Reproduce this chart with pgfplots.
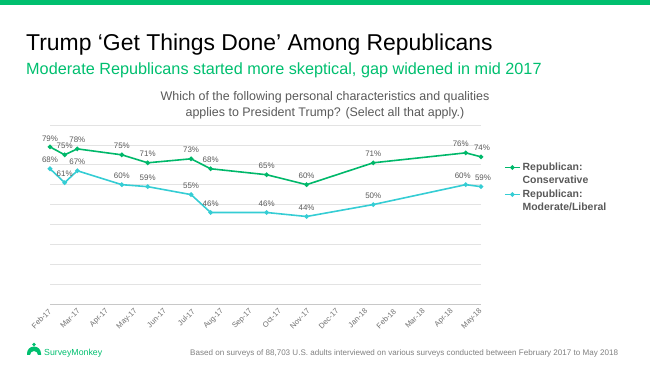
\documentclass[border=0pt]{standalone}
\usepackage{pgfplots}
\usepackage{pgfplotstable}
\pgfplotsset{compat=1.18}
\usepackage{fontspec}
\setmainfont{Liberation Sans}
\definecolor{smgreen}{HTML}{00BF6F}
\definecolor{cons}{HTML}{00B86A}
\definecolor{modl}{HTML}{35CDD4}
\definecolor{labgray}{HTML}{595959}
\definecolor{tickgray}{HTML}{6F6F6F}
\definecolor{footgray}{HTML}{808080}
\definecolor{gridgray}{HTML}{E3E3E3}
\definecolor{axisgray}{HTML}{C8C8C8}

% x = months after Feb-17, y = percent, dx/dy = label shifts (bp)
\pgfplotstableread{
x y dx dy
0 79 0 0
0.51 75 0 0
0.95 78 0 0
2.5 75 0 0
3.4 71 0 0
4.91 73 0 0
5.59 68 0 0
7.54 65 0 0
8.93 60 0 0
11.25 71 0 0
14.47 76 -5 0
15 74 1 0
}\conservative
\pgfplotstableread{
x y dx dy
0 68 0 0
0.51 61 0 -3
0.95 67 0 0
2.5 60 0 0
3.4 59 0 0
4.91 55 0 0
5.59 46 0 0
7.54 46 0 0
8.93 44 0 0
11.25 50 0 0
14.47 60 -3 0
15 59 2 0
}\moderate

\begin{document}
\begin{tikzpicture}
\useasboundingbox (0,0) rectangle (650bp,366bp);
\fill[smgreen] (0,361bp) rectangle (650bp,366bp);
\node[anchor=base west, inner sep=0, font=\fontsize{23}{26}\selectfont, text=black] at (26bp,315bp) {Trump ‘Get Things Done’ Among Republicans};
\node[anchor=base west, inner sep=0, font=\fontsize{16.3}{19}\selectfont, text=smgreen] at (26bp,291bp) {Moderate Republicans started more skeptical, gap widened in mid 2017};
\node[anchor=north, inner sep=0, align=center, font=\fontsize{12.5}{16.5}\selectfont, text=labgray] at (325bp,275bp) {Which of the following personal characteristics and qualities\\ applies to President Trump? (Select all that apply.)};
% logo
\fill[smgreen] (27bp,12.5bp) arc[start angle=180, end angle=0, radius=7bp] -- (41bp,11bp) -- (38bp,11bp) arc[start angle=0, end angle=180, radius=4bp] -- (27bp,11bp) -- cycle;
\fill[smgreen] (34bp,21.5bp) circle[radius=1.8bp];
\node[anchor=base west, inner sep=0, font=\fontsize{8.8}{10}\selectfont, text=smgreen] at (44bp,11bp) {SurveyMonkey};
\node[anchor=base west, inner sep=0, font=\fontsize{8.1}{9}\selectfont, text=footgray] at (190bp,11bp) {Based on surveys of 88,703 U.S. adults interviewed on various surveys conducted between February 2017 to May 2018};

\begin{axis}[
  at={(50bp,62bp)}, anchor=south west,
  scale only axis, width=431bp, height=179bp,
  xmin=0, xmax=15, ymin=0, ymax=90,
  clip=false,
  axis x line*=bottom, axis y line*=left,
  y axis line style={draw=none},
  x axis line style={draw=axisgray, line width=0.9bp, -},
  xtick={0,...,15},
  xticklabels={Feb-17,Mar-17,Apr-17,May-17,Jun-17,Jul-17,Aug-17,Sep-17,Oct-17,Nov-17,Dec-17,Jan-18,Feb-18,Mar-18,Apr-18,May-18},
  xticklabel style={yshift=-6bp, rotate=45, anchor=east, inner sep=0, font=\fontsize{7.6}{9}\selectfont, text=tickgray},
  ytick={10,20,...,90}, yticklabels={},
  major tick length=0,
  ymajorgrids, grid style={draw=gridgray, line width=0.6bp},
  /pgf/number format/assume math mode=true,
  nodes near coords={\pgfmathprintnumber{\pgfplotspointmeta}\%},
  visualization depends on={\thisrow{dx} \as \dxv},
  visualization depends on={\thisrow{dy} \as \dyv},
  every node near coord/.append style={font=\fontsize{8}{9}\selectfont, text=labgray, anchor=south, inner sep=0, yshift=5bp, xshift=\dxv bp},
  legend style={at={(1.053,0.80)}, anchor=north west, draw=none, fill=none, inner sep=0,
    font=\bfseries\fontsize{10.5}{13}\selectfont, text=labgray, cells={align=left, anchor=west}, row sep=1bp},
  legend image code/.code={\draw[mark repeat=2,mark phase=2] plot coordinates {(0bp,6.5bp)(7.5bp,6.5bp)(15bp,6.5bp)};},
]
\addplot[cons, line width=1.6bp, mark=*, mark size=1.4bp] table[x=x,y=y] {\conservative};
\addlegendentry{Republican:\\Conservative}
\addplot[modl, line width=1.6bp, mark=*, mark size=1.4bp] table[x=x,y=y] {\moderate};
\addlegendentry{Republican:\\Moderate/Liberal}
\end{axis}
\end{tikzpicture}
\end{document}
